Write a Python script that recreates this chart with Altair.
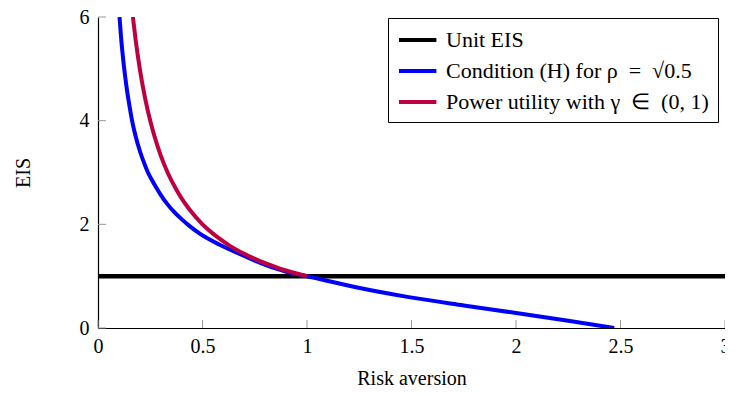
import altair as alt
import pandas as pd

# ---- data ----
unit_x = [0.0, 3.0]
unit_y = [1.0, 1.0]

blue_x = [0.103, 0.11, 0.12, 0.13, 0.14, 0.15, 0.163, 0.18, 0.20, 0.22, 0.239,
          0.26, 0.28, 0.30, 0.33, 0.364, 0.40, 0.437, 0.48, 0.532, 0.58, 0.627,
          0.70, 0.75, 0.80, 0.864, 0.90, 0.95, 1.0, 1.24, 1.48, 1.75, 2.0, 2.25, 2.47]
blue_y = [6.0, 5.62, 5.2, 4.85, 4.55, 4.3, 4.0, 3.7, 3.42, 3.19, 3.0,
          2.84, 2.7, 2.57, 2.4, 2.24, 2.1, 1.97, 1.84, 1.71, 1.61, 1.52,
          1.39, 1.30, 1.22, 1.13, 1.085, 1.04, 1.0, 0.78, 0.60, 0.435, 0.29, 0.14, 0.0]

red_x = [0.167, 0.18, 0.20, 0.225, 0.253, 0.28, 0.30, 0.333, 0.372, 0.40, 0.437,
         0.50, 0.55, 0.60, 0.627, 0.70, 0.80, 0.864, 0.90, 1.0]
red_y = [6.0, 5.56, 5.0, 4.44, 3.95, 3.57, 3.33, 3.0, 2.69, 2.5, 2.29,
         2.0, 1.82, 1.67, 1.595, 1.43, 1.25, 1.157, 1.11, 1.0]

series_names = ["Unit EIS",
                "Condition (H) for ρ\u2002=\u2002√0.5",
                "Power utility with γ\u2002∈\u2002(0, 1)"]
series_colors = ["#000000", "#0000ff", "#bf0040"]

x_ticks = [0, 0.5, 1, 1.5, 2, 2.5, 3]
y_ticks = [0, 2, 4, 6]

FONT = "Liberation Serif"
W, H = 627, 311

df_unit = pd.DataFrame({"x": unit_x, "y": unit_y, "s": series_names[0]})
df_blue = pd.DataFrame({"x": blue_x, "y": blue_y, "s": series_names[1]})
df_red = pd.DataFrame({"x": red_x, "y": red_y, "s": series_names[2]})
df_xt = pd.DataFrame({"x": x_ticks})
df_yt = pd.DataFrame({"y": y_ticks})

xs = alt.Scale(domain=[0, 3], nice=False, zero=False)
ys = alt.Scale(domain=[0, 6], nice=False, zero=False)

x_axis = alt.Axis(values=x_ticks, format="~g", title="Risk aversion", grid=False,
                  tickSize=0, labelPadding=8, titlePadding=12,
                  labelFont=FONT, labelFontSize=20, titleFont=FONT, titleFontSize=20,
                  titleFontWeight="normal", domainColor="black", labelColor="black",
                  titleColor="black", labelFlush=False)
y_axis = alt.Axis(values=y_ticks, format="~g", title="EIS", grid=False,
                  tickSize=0, labelPadding=9, titlePadding=46,
                  labelFont=FONT, labelFontSize=20, titleFont=FONT, titleFontSize=20,
                  titleFontWeight="normal", domainColor="black", labelColor="black",
                  titleColor="black", labelFlush=False)

color = alt.Color("s:N",
                  scale=alt.Scale(domain=series_names, range=series_colors),
                  legend=alt.Legend(title=None, orient="none", legendX=290, legendY=1,
                                    symbolType="M -1 0 H 2.4", symbolSize=484,
                                    symbolStrokeWidth=4, symbolFillColor="transparent",
                                    labelFont=FONT,
                                    labelFontSize=22, labelColor="black",
                                    labelLimit=400, labelOffset=23,
                                    rowPadding=7, padding=9,
                                    fillColor="white", strokeColor="black",
                                    cornerRadius=0))

base_x = alt.X("x:Q", scale=xs, axis=x_axis)
base_y = alt.Y("y:Q", scale=ys, axis=y_axis)

ticks_x = alt.Chart(df_xt).mark_rule(color="#999999", strokeWidth=1).encode(
    x=alt.X("x:Q", scale=xs), y=alt.value(H), y2=alt.value(H - 8))
ticks_y = alt.Chart(df_yt).mark_rule(color="#999999", strokeWidth=1).encode(
    y=alt.Y("y:Q", scale=ys), x=alt.value(0), x2=alt.value(8))

unit = alt.Chart(df_unit).mark_line(strokeWidth=4.5, clip=True).encode(
    x=base_x, y=base_y, color=color)
blue = alt.Chart(df_blue).mark_line(strokeWidth=4, interpolate="monotone", clip=True).encode(
    x=base_x, y=base_y, color=color)
red = alt.Chart(df_red).mark_line(strokeWidth=4, interpolate="monotone", clip=True).encode(
    x=base_x, y=base_y, color=color)

chart = alt.layer(ticks_x, ticks_y, unit, blue, red).properties(
    width=W, height=H,
    autosize=alt.AutoSizeParams(type="none"),
    padding={"left": 90, "top": 9, "right": 0, "bottom": 61},
).configure_view(stroke=None).configure_axis(domainWidth=1.2)

chart.save("out.html", embed_options={"renderer": "svg", "actions": False})
